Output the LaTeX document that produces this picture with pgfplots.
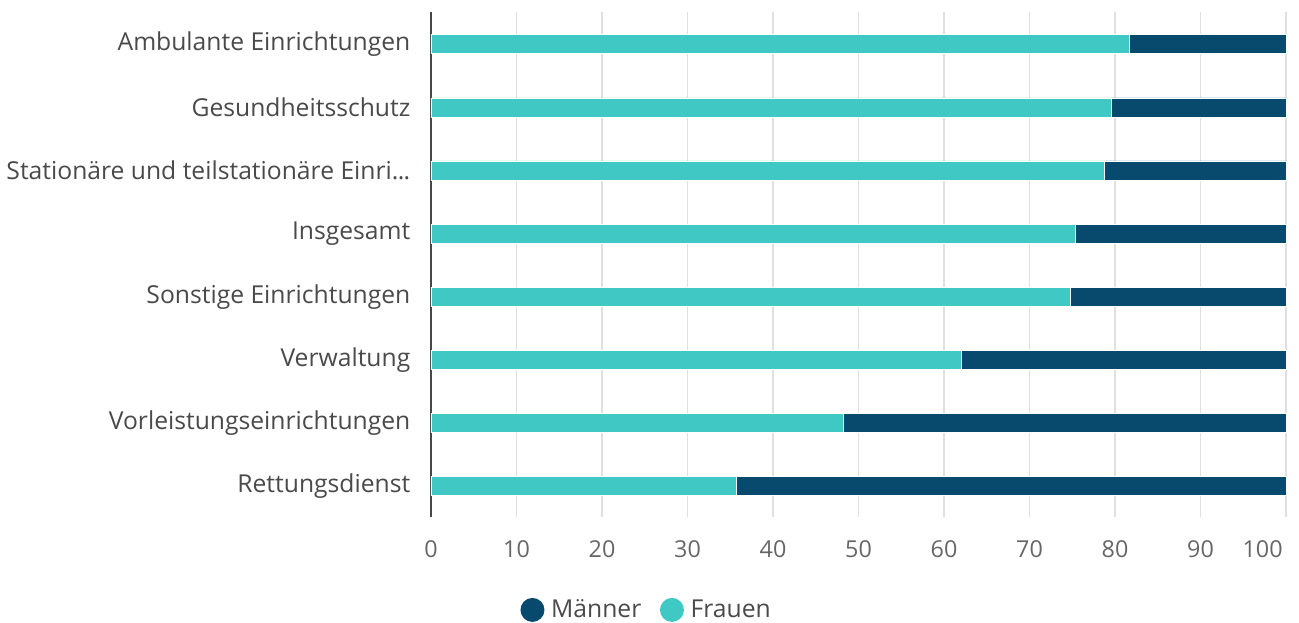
\documentclass[border=0pt]{standalone}
\usepackage{pgfplots}
\pgfplotsset{compat=1.18}
\usepackage{pgfplotstable}
\usepackage{fontspec}
\setmainfont{Open Sans}
\definecolor{frauen}{HTML}{40C8C4}
\definecolor{maenner}{HTML}{084A6E}
\definecolor{gridc}{HTML}{E0E0E0}
\definecolor{labc}{HTML}{4A4A4A}
\definecolor{tickc}{HTML}{666666}
\pgfplotstableread{
y Frauen Maenner
7 81.7 18.3
6 79.6 20.4
5 78.8 21.2
4 75.4 24.6
3 74.8 25.2
2 62.0 38.0
1 48.2 51.8
0 35.7 64.3
}\data
\begin{document}
\begin{tikzpicture}
\useasboundingbox (0,0) rectangle (974.25pt,467.25pt);
\begin{axis}[
  at={(323.25pt,79.5pt)}, anchor=south west,
  scale only axis, width=641.25pt, height=378.75pt,
  xbar stacked, bar width=0.3,
  xmin=0, xmax=100, ymin=-0.49, ymax=7.51,
  xtick={0,10,...,90},
  extra x ticks={100},
  extra x tick style={xticklabel style={anchor=north east, xshift=1pt}},
  ytick={0,...,7},
  yticklabels={Rettungsdienst,Vorleistungseinrichtungen,Verwaltung,Sonstige Einrichtungen,Insgesamt,{Stationäre und teilstationäre Einri.\kern-0.5pt.\kern-0.5pt.},Gesundheitsschutz,Ambulante Einrichtungen},
  major tick length=0pt,
  axis y line*=left, axis x line*=bottom,
  x axis line style={draw=none},
  y axis line style={draw=tickc!70!black, line width=0.8pt, -},
  xmajorgrids, major grid style={gridc, line width=0.8pt},
  /pgf/number format/assume math mode=true,
  xticklabel style={font=\fontsize{17.5}{20}\selectfont, text=tickc, yshift=-14pt},
  yticklabel style={font=\fontsize{18.5}{20}\selectfont, text=labc, xshift=-12pt},
  legend style={at={(0.2526,-0.184)}, anchor=center, draw=none, fill=none,
    legend columns=2, font=\fontsize{18.5}{20}\selectfont, text=labc,
    /tikz/every odd column/.append style={column sep=3pt},
    /tikz/every even column/.append style={column sep=12pt}},
  legend image code/.code={\path[#1, draw=none] (0pt,0pt) circle (9pt);},
  clip=false,
]
\addplot[fill=frauen, draw=white, line width=0.4pt, forget plot] table[x=Frauen, y=y] {\data};
\addplot[fill=maenner, draw=white, line width=0.4pt, forget plot] table[x=Maenner, y=y] {\data};
\addlegendimage{fill=maenner}
\addlegendentry{Männer}
\addlegendimage{fill=frauen}
\addlegendentry{Frauen}
\end{axis}
\end{tikzpicture}
\end{document}
